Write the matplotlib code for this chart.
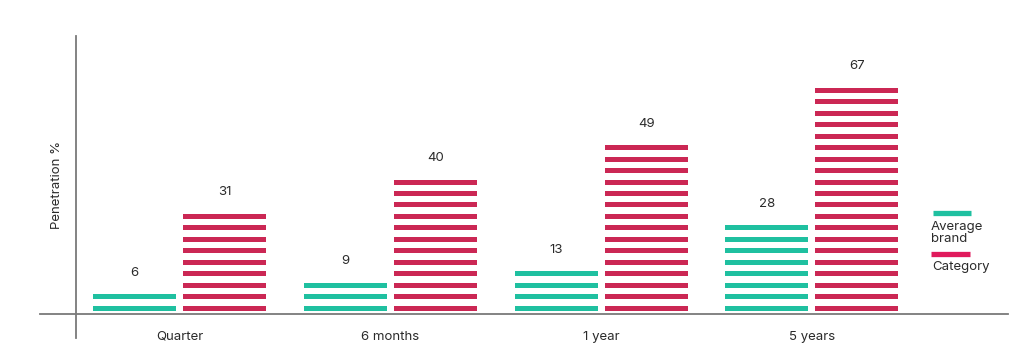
import matplotlib
matplotlib.use("Agg")
import matplotlib.pyplot as plt
from matplotlib.lines import Line2D
import numpy as np

plt.rcParams['font.family'] = ['Inter', 'DejaVu Sans']

categories = ["Quarter", "6 months", "1 year", "5 years"]
average_brand = [6, 9, 13, 28]
category_vals = [31, 40, 49, 67]
series_names = ["Average brand", "Category"]

TEAL = "#1fc0a0"
MAGENTA = "#cb2754"
LEG_MAGENTA = "#e01a5c"
TEXT = "#2b2b2b"
AXIS = "#7a7a7a"

W, H = 1024, 351
fig = plt.figure(figsize=(W / 100, H / 100), dpi=100)

# axes spanning x 40..1008 px, y 36..314 px
ax = fig.add_axes([40 / W, (H - 314) / H, (1008 - 40) / W, (314 - 36) / H])
ax.set_xlim(-0.662, 3.93)
ax.set_ylim(-1.0, 79.8)
ax.axis("off")

x = np.arange(len(categories))
bw = 0.394
off = 0.2135
period = 3.33   # stripe period (data units)
thick = 1.45    # stripe thickness (data units)


def striped(xc, value, color):
    n = max(int(round(value / period)), 1)
    bottoms = np.arange(n) * period
    ax.bar(np.full(n, xc), np.full(n, thick), bottom=bottoms, width=bw,
           color=color, linewidth=0)
    top = bottoms[-1] + thick
    ax.annotate(f"{value}", (xc, top), xytext=(0, 15.5), textcoords="offset points",
                ha="center", va="center", fontsize=9.5, color=TEXT)


for i in range(len(categories)):
    striped(x[i] - off, average_brand[i], TEAL)
    striped(x[i] + off, category_vals[i], MAGENTA)
    ax.annotate(categories[i], (x[i], -1.0), xytext=(0, -16.5), textcoords="offset points",
                ha="center", va="center", fontsize=9.5, color=TEXT, annotation_clip=False)

# axis lines
fig.add_artist(Line2D([40 / W, 1008 / W], [(H - 314) / H] * 2, color=AXIS, lw=1.3))
fig.add_artist(Line2D([76 / W] * 2, [(H - 36) / H, (H - 338) / H], color=AXIS, lw=1.3))

# y label
fig.text(57 / W, (H - 185) / H, "Penetration %", rotation=90, ha="center", va="center",
         fontsize=9.5, color=TEXT)

# legend
fig.add_artist(Line2D([933 / W, 971 / W], [(H - 213) / H] * 2, color=TEAL, lw=3.8,
                      solid_capstyle="butt"))
fig.text(931 / W, (H - 233) / H, "Average\nbrand", ha="left", va="center", fontsize=9.5,
         color=TEXT, linespacing=1.1)
fig.add_artist(Line2D([931 / W, 970 / W], [(H - 254) / H] * 2, color=LEG_MAGENTA, lw=3.8,
                      solid_capstyle="butt"))
fig.text(932 / W, (H - 267) / H, "Category", ha="left", va="center", fontsize=9.5, color=TEXT)

fig.savefig("out.png", dpi=100, facecolor="white")
